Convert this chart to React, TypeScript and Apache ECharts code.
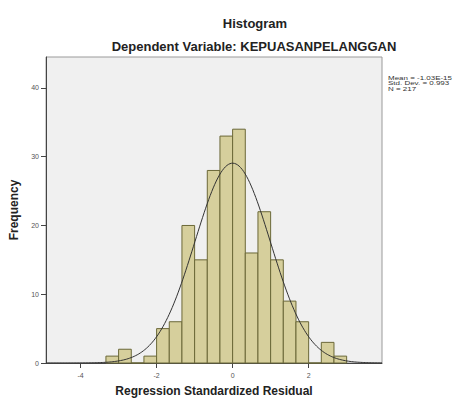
import React, { useEffect, useRef } from "react";
import * as echarts from "echarts";

const binStart = -10 / 3;
const binWidth = 1 / 3;
const counts = [1, 2, 0, 1, 5, 6, 20, 15, 28, 33, 34, 16, 22, 15, 9, 6, 0, 3, 1];
const mean = -1.03e-15;
const stdDev = 0.993;
const nObs = 217;
const xTicks = [-4, -2, 0, 2];
const yTicks = [0, 10, 20, 30, 40];
const statsLines = ["Mean = -1.03E-15", "Std. Dev. = 0.993", "N = 217"];

const xMin = -4.91;
const xMax = 3.93;
const yMax = 44.5;

export default function App() {
  const ref = useRef<HTMLDivElement>(null);
  useEffect(() => {
    if (!ref.current) return;
    const chart = echarts.init(ref.current, null, { renderer: "svg" });
    const bars = counts.map((c, i) => [binStart + i * binWidth, binStart + (i + 1) * binWidth, c]);
    const curve: number[][] = [];
    for (let x = xMin; x <= xMax + 1e-9; x += 0.04) {
      const z = (x - mean) / stdDev;
      const y = (nObs * binWidth) / (stdDev * Math.sqrt(2 * Math.PI)) * Math.exp(-0.5 * z * z);
      curve.push([x, y]);
    }
    const font = "Liberation Sans, Arial, sans-serif";
    chart.setOption({
      animation: false,
      title: [
        { text: "Histogram", left: 250, top: 12, textAlign: "center", textStyle: { fontFamily: font, fontSize: 13, fontWeight: "bold", color: "#222" } },
        { text: "Dependent Variable: KEPUASANPELANGGAN", left: 249, top: 35, textAlign: "center", textStyle: { fontFamily: font, fontSize: 13, fontWeight: "bold", color: "#222" } },
      ],
      grid: { left: 46, top: 57, width: 336, height: 306, outerBoundsMode: "none", containLabel: false, show: true, backgroundColor: "#f0f0f0", borderColor: "#9a9a9a", borderWidth: 1 },
      xAxis: {
        type: "value",
        min: xMin,
        max: xMax,
        name: "Regression Standardized Residual",
        nameLocation: "middle",
        nameGap: 22,
        nameTextStyle: { fontFamily: font, fontSize: 12, fontWeight: "bold", color: "#222" },
        axisLine: { onZero: false, lineStyle: { color: "#444" } },
        axisTick: { customValues: xTicks, length: 5, lineStyle: { color: "#444" } },
        axisLabel: { customValues: xTicks, fontFamily: font, fontSize: 7, color: "#555", margin: 9 },
        splitLine: { show: false },
      },
      yAxis: {
        type: "value",
        min: 0,
        max: yMax,
        name: "Frequency",
        nameLocation: "middle",
        nameGap: 25,
        nameTextStyle: { fontFamily: font, fontSize: 12, fontWeight: "bold", color: "#222" },
        axisLine: { show: true, onZero: false, lineStyle: { color: "#444" } },
        axisTick: { show: true, customValues: yTicks, length: 5, lineStyle: { color: "#444" } },
        axisLabel: { customValues: yTicks, fontFamily: font, fontSize: 7, color: "#555", margin: 7 },
        splitLine: { show: false },
      },
      series: [
        {
          type: "custom",
          data: bars,
          renderItem: (params: any, api: any) => {
            const p0 = api.coord([api.value(0), api.value(2)]);
            const p1 = api.coord([api.value(1), 0]);
            return {
              type: "rect",
              shape: { x: p0[0], y: p0[1], width: p1[0] - p0[0], height: p1[1] - p0[1] },
              style: { fill: "#d6cf9c", stroke: "#6b6838", lineWidth: 1 },
            };
          },
          z: 2,
        },
        {
          type: "line",
          data: curve,
          showSymbol: false,
          smooth: false,
          lineStyle: { color: "#333", width: 1 },
          z: 3,
        },
      ],
      graphic: statsLines.map((t, i) => ({
        type: "text",
        x: 388,
        y: 74.5 + i * 5.7,
        scaleX: 1.33,
        style: { text: t, fontFamily: font, fontSize: 6, fill: "#333" },
      })),
    });
    return () => chart.dispose();
  }, []);
  return <div ref={ref} style={{ width: 455, height: 399, position: "absolute", left: 0, top: 0 }} />;
}
